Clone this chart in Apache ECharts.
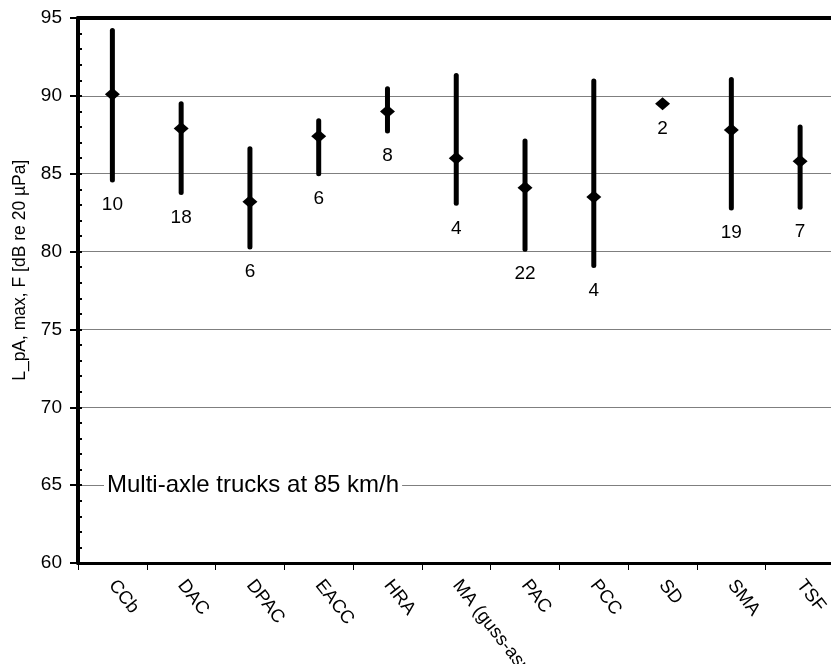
<!DOCTYPE html>
<html>
<head>
<meta charset="utf-8">
<script src="https://cdn.jsdelivr.net/npm/echarts@6/dist/echarts.min.js"></script>
<style>html,body{margin:0;padding:0;background:#fff}#c{width:831px;height:664px}</style>
</head>
<body>
<div id="c"></div>
<script>
const categories = ['CCb','DAC','DPAC','EACC','HRA','MA (guss-asphalt)','PAC','PCC','SD','SMA','TSF'];
const meanValues = [90.1, 87.9, 83.2, 87.4, 89.0, 86.0, 84.1, 83.5, 89.5, 87.8, 85.8];
const minValues  = [84.6, 83.8, 80.3, 85.0, 87.75, 83.1, 80.15, 79.1, 89.5, 82.8, 82.85];
const maxValues  = [94.2, 89.5, 86.6, 88.4, 90.45, 91.3, 87.1, 90.95, 89.5, 91.05, 88.0];
const counts     = [10, 18, 6, 6, 8, 4, 22, 4, 2, 19, 7];
const yTicks = [60, 65, 70, 75, 80, 85, 90, 95];
const yAxisName = 'L_pA, max, F [dB re 20 µPa]';
const annotation = 'Multi-axle trucks at 85 km/h';

const FONT = '"Liberation Sans", Arial, sans-serif';
const chart = echarts.init(document.getElementById('c'), null, {renderer: 'canvas'});

const rangeData = categories.map((c, i) => [i, minValues[i], maxValues[i], counts[i]]);

chart.setOption({
  animation: false,
  backgroundColor: '#fff',
  grid: {left: 78, top: 18, width: 756.5, height: 545, containLabel: false, outerBoundsMode: 'none', show: false},
  xAxis: [{
    type: 'category',
    data: categories,
    boundaryGap: true,
    axisLine: {lineStyle: {color: '#000', width: 3}},
    axisTick: {show: true, length: 7, lineStyle: {color: '#000', width: 1}},
    axisLabel: {rotate: -52, color: '#000', fontSize: 18.5, fontFamily: FONT, margin: 19, interval: 0},
    splitLine: {show: false}
  }, {
    type: 'category',
    data: categories,
    position: 'top',
    axisLine: {show: true, lineStyle: {color: '#000', width: 4}},
    axisTick: {show: false},
    axisLabel: {show: false},
    splitLine: {show: false}
  }],
  yAxis: [{
    type: 'value',
    min: yTicks[0], max: yTicks[yTicks.length - 1], interval: 5,
    axisLine: {show: true, lineStyle: {color: '#000', width: 4}},
    axisTick: {show: true, length: 8, lineStyle: {color: '#000', width: 2}},
    axisLabel: {color: '#000', fontSize: 19, fontFamily: FONT, margin: 16},
    splitLine: {show: true, lineStyle: {color: '#7f7f7f', width: 1}}
  }, {
    type: 'value',
    position: 'left',
    min: yTicks[0], max: yTicks[yTicks.length - 1], interval: 1,
    axisLine: {show: false},
    axisTick: {show: true, inside: true, length: 4, lineStyle: {color: '#000', width: 2}},
    axisLabel: {show: false},
    splitLine: {show: false}
  }],
  series: [{
    type: 'custom',
    data: rangeData,
    encode: {x: 0, y: [1, 2]},
    renderItem: function (params, api) {
      const x = api.value(0);
      const lo = api.coord([x, api.value(1)]);
      const hi = api.coord([x, api.value(2)]);
      const children = [];
      if (Math.abs(lo[1] - hi[1]) > 0.5) {
        children.push({type: 'line', shape: {x1: lo[0], y1: lo[1], x2: hi[0], y2: hi[1]},
          style: {stroke: '#000', lineWidth: 5, lineCap: 'round'}});
      }
      children.push({type: 'text', x: lo[0], y: lo[1] + 25,
        style: {text: String(api.value(3)), fill: '#000', font: '19px ' + FONT, align: 'center', verticalAlign: 'middle',
          backgroundColor: '#fff', padding: [0, 11, 10, 11]}});
      return {type: 'group', children: children};
    },
    z: 3
  }, {
    type: 'scatter',
    data: meanValues.map((v, i) => [i, v]),
    symbol: 'diamond',
    symbolSize: [15, 13],
    itemStyle: {color: '#000', opacity: 1},
    z: 4
  }]
});

const y65 = chart.convertToPixel({yAxisIndex: 0}, 65);
const yMid = chart.convertToPixel({yAxisIndex: 0}, 78.8);
chart.setOption({
  graphic: [{
    type: 'text', x: 104, y: y65,
    style: {text: annotation, fill: '#000', font: '24px ' + FONT, verticalAlign: 'middle', align: 'left',
      backgroundColor: '#fff', padding: [2, 3, 2, 3]},
    z: 10
  }, {
    type: 'text', x: 20, y: yMid, rotation: Math.PI / 2,
    style: {text: yAxisName, fill: '#000', font: '17.5px ' + FONT, align: 'center', verticalAlign: 'middle'},
    z: 10
  }]
});
</script>
</body>
</html>
